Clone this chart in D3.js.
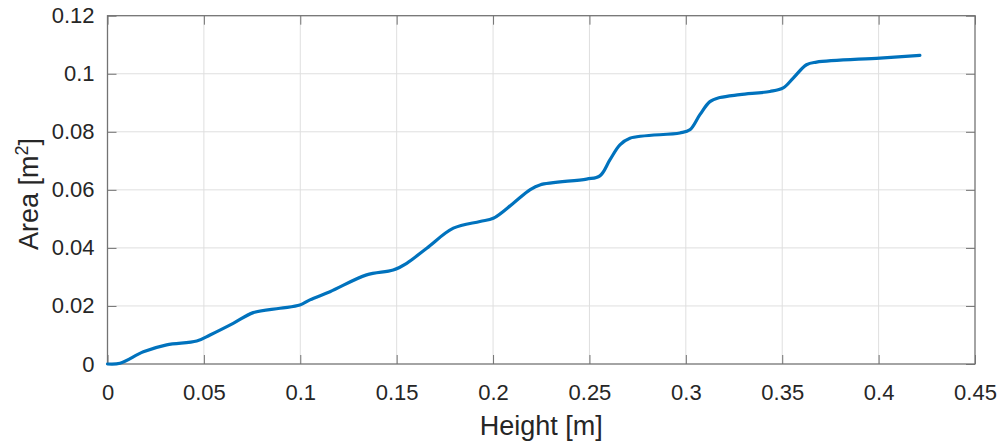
<!DOCTYPE html>
<html lang="en">
<head>
<meta charset="utf-8">
<title>Area vs Height</title>
<script src="https://cdn.jsdelivr.net/npm/d3@7"></script>
<style>
body { margin: 0; background: #fff; }
text { font-family: Arial, "Liberation Sans", Helvetica, sans-serif; fill: #262626; }
</style>
</head>
<body>
<script>
// data
var heights = [0, 0.0065, 0.0186, 0.0307, 0.0463, 0.0532, 0.0652, 0.0756, 0.0895, 0.0998,
  0.1050, 0.1154, 0.1344, 0.1482, 0.1552, 0.1656, 0.1794, 0.1932, 0.2001, 0.2105,
  0.2191, 0.2243, 0.2485, 0.2554, 0.2606, 0.2658, 0.2710, 0.2969, 0.3021, 0.3073,
  0.3125, 0.3177, 0.3280, 0.3436, 0.3505, 0.3557, 0.3626, 0.3678, 0.4007, 0.4214];
var areas = [0, 0.00024, 0.0042, 0.0066, 0.0079, 0.0100, 0.0140, 0.0177, 0.0192, 0.0203,
  0.0221, 0.0249, 0.0307, 0.0324, 0.0347, 0.0399, 0.0468, 0.0491, 0.0502, 0.0554,
  0.0600, 0.0617, 0.0637, 0.0648, 0.0703, 0.0755, 0.0778, 0.0796, 0.0807, 0.0859,
  0.0904, 0.0918, 0.0928, 0.0939, 0.0951, 0.0985, 0.1031, 0.1040, 0.1054, 0.1063];
var xTicks = [0, 0.05, 0.1, 0.15, 0.2, 0.25, 0.3, 0.35, 0.4, 0.45];
var yTicks = [0, 0.02, 0.04, 0.06, 0.08, 0.1, 0.12];

var w = 1004, h = 445;
// plot box edges (px)
var pLeft = 107.5, pRight = 975, pTop = 15.7, pBottom = 364;
var tickLen = 9;

var x = d3.scaleLinear().domain([0, 0.45]).range([pLeft, pRight]);
var y = d3.scaleLinear().domain([0, 0.12]).range([pBottom, pTop]);

var svg = d3.select("body").append("svg")
  .attr("width", w)
  .attr("height", h);

// grid
svg.append("g").selectAll("line")
  .data(xTicks.slice(1, -1))
  .enter().append("line")
  .attr("x1", d => x(d)).attr("x2", d => x(d))
  .attr("y1", pTop).attr("y2", pBottom)
  .attr("stroke", "#dfdfdf").attr("stroke-width", 1);
svg.append("g").selectAll("line")
  .data(yTicks.slice(1, -1))
  .enter().append("line")
  .attr("x1", pLeft).attr("x2", pRight)
  .attr("y1", d => y(d)).attr("y2", d => y(d))
  .attr("stroke", "#dfdfdf").attr("stroke-width", 1);

var fmt = d => String(+d.toFixed(3));

function styleAxis(g) {
  g.select(".domain").remove();
  g.selectAll(".tick line").attr("stroke", "#737373");
  g.selectAll(".tick text").attr("font-size", 22).attr("fill", "#262626");
}

// bottom / left with labels, top / right ticks only (inward)
svg.append("g")
  .attr("transform", "translate(0," + pBottom + ")")
  .call(d3.axisBottom(x).tickValues(xTicks).tickFormat(fmt).tickSizeInner(-tickLen).tickSizeOuter(0).tickPadding(20))
  .call(styleAxis);
svg.append("g")
  .attr("transform", "translate(0," + pTop + ")")
  .call(d3.axisTop(x).tickValues(xTicks).tickFormat("").tickSizeInner(-tickLen).tickSizeOuter(0))
  .call(styleAxis);
svg.append("g")
  .attr("transform", "translate(" + pLeft + ",0)")
  .call(d3.axisLeft(y).tickValues(yTicks).tickFormat(fmt).tickSizeInner(-tickLen).tickSizeOuter(0).tickPadding(13))
  .call(styleAxis);
svg.append("g")
  .attr("transform", "translate(" + pRight + ",0)")
  .call(d3.axisRight(y).tickValues(yTicks).tickFormat("").tickSizeInner(-tickLen).tickSizeOuter(0))
  .call(styleAxis);

// box
svg.append("rect")
  .attr("x", pLeft).attr("y", pTop)
  .attr("width", pRight - pLeft).attr("height", pBottom - pTop)
  .attr("fill", "none")
  .attr("stroke", "#737373")
  .attr("stroke-width", 1.3);

// curve
var pts = heights.map((hgt, i) => [hgt, areas[i]]);
var line = d3.line()
  .x(d => x(d[0]))
  .y(d => y(d[1]))
  .curve(d3.curveCatmullRom.alpha(0.5));

svg.append("path")
  .datum(pts)
  .attr("d", line)
  .attr("fill", "none")
  .attr("stroke", "#0072bd")
  .attr("stroke-width", 3.2)
  .attr("stroke-linejoin", "round")
  .attr("stroke-linecap", "round");

// axis labels
svg.append("text")
  .attr("x", (pLeft + pRight) / 2)
  .attr("y", 435)
  .attr("text-anchor", "middle")
  .attr("font-size", 27)
  .text("Height [m]");

var yl = svg.append("text")
  .attr("transform", "translate(38,194) rotate(-90)")
  .attr("text-anchor", "middle")
  .attr("font-size", 27);
yl.append("tspan").text("Area [m");
yl.append("tspan").attr("dy", -10).attr("font-size", 18).text("2");
yl.append("tspan").attr("dy", 10).text("]");
</script>
</body>
</html>
